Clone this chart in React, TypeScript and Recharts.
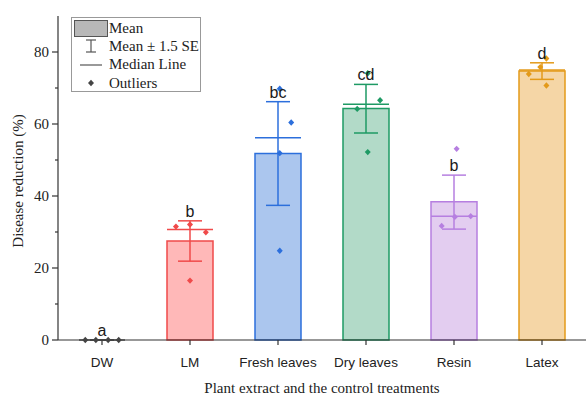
import React from 'react';
import { ComposedChart, Bar, Cell, Scatter, XAxis, YAxis } from 'recharts';

// treatments and summary stats
const categories = ['DW', 'LM', 'Fresh leaves', 'Dry leaves', 'Resin', 'Latex'];
const means = [0, 27.5, 51.8, 64.3, 38.4, 74.7];
const errLow = [0, 21.9, 37.4, 57.5, 30.8, 72.4];
const errHigh = [0, 33.1, 66.2, 71.0, 45.8, 77.0];
const medians = [0, 30.7, 56.2, 65.5, 34.4, 75.0];
const letters = ['a', 'b', 'bc', 'cd', 'b', 'd'];

// individual replicates: [jitter offset within category, value]
const replicates: [number, number][][] = [
  [[-0.19, 0], [-0.07, 0], [0.07, 0], [0.19, 0]],
  [[-0.16, 31.5], [0, 32.1], [0.18, 29.9], [0, 16.5]],
  [[0.02, 51.9], [0.15, 60.4], [0.02, 69.8], [0.02, 24.8]],
  [[0.02, 74.1], [0.16, 66.6], [-0.1, 64.2], [0.02, 52.2]],
  [[-0.14, 31.7], [0.01, 34.2], [0.19, 34.4], [0.03, 53.1]],
  [[0.05, 78.2], [-0.02, 75.8], [-0.15, 73.9], [0.05, 70.7]],
];

const yTicks = [0, 10, 20, 30, 40, 50, 60, 70, 80];

const strokes = ['#444444', '#f04a4a', '#2c6fdc', '#1e9a64', '#b67fe0', '#e39a1a'];
const fills = ['#cccccc', '#ffb8b8', '#abc6ee', '#b2dac8', '#e3cdf0', '#f5d6a6'];

const SERIF = '"Liberation Serif", "Times New Roman", serif';
const SANS = '"Liberation Sans", Arial, sans-serif';

const barData = categories.map((name, i) => ({
  name,
  idx: i,
  mean: means[i],
  range: [errLow[i], errHigh[i]],
}));

const medianData = categories.map((_, i) => ({ x: i, y: medians[i], idx: i }));
const letterData = categories.map((_, i) => ({ x: i, y: errHigh[i], idx: i, txt: letters[i] }));
const pointData = replicates.flatMap((pts, i) =>
  pts.map(([off, v]) => ({ x: i + off, y: v, idx: i }))
);

const Whisker = (props: any) => {
  const { x, y, width, height, payload } = props;
  const top = Math.min(y, y + height);
  const bot = Math.max(y, y + height);
  const cx = x + width / 2;
  const c = strokes[payload.idx];
  return (
    <g stroke={c} strokeWidth={1.5}>
      <line x1={cx} x2={cx} y1={top} y2={bot} />
      <line x1={x} x2={x + width} y1={top} y2={top} />
      <line x1={x} x2={x + width} y1={bot} y2={bot} />
    </g>
  );
};

const MedianMark = (props: any) => {
  const { cx, cy, payload } = props;
  return <line x1={cx - 23} x2={cx + 23} y1={cy} y2={cy} stroke={strokes[payload.idx]} strokeWidth={1.5} />;
};

const Diamond = (props: any) => {
  const { cx, cy, payload } = props;
  return (
    <polygon
      points={`${cx},${cy - 3.2} ${cx + 3},${cy} ${cx},${cy + 3.2} ${cx - 3},${cy}`}
      fill={strokes[payload.idx]}
    />
  );
};

const Letter = (props: any) => {
  const { cx, cy, payload } = props;
  return (
    <text x={cx} y={cy - 4} textAnchor="middle" fontFamily={SANS} fontSize={16} fill="#1a1a1a">
      {payload.txt}
    </text>
  );
};

const YTick = ({ x, y, payload }: any) => {
  const major = payload.value % 20 === 0;
  return (
    <g>
      <line x1={x + (major ? 3 : 6)} x2={x + 9} y1={y} y2={y} stroke="#333" strokeWidth={1.2} />
      {major && (
        <text x={x} y={y} dy={5} textAnchor="end" fontFamily={SERIF} fontSize={15} fill="#222">
          {payload.value}
        </text>
      )}
    </g>
  );
};

const YTitle = ({ viewBox }: any) => {
  const cx = viewBox.x + 18;
  const cy = viewBox.y + viewBox.height / 2 + 3;
  return (
    <text
      x={cx}
      y={cy}
      transform={`rotate(-90, ${cx}, ${cy})`}
      textAnchor="middle"
      dominantBaseline="central"
      fontFamily={SERIF}
      fontSize={15}
      fill="#222"
    >
      Disease reduction (%)
    </text>
  );
};

function LegendBox() {
  const row = { height: 18.3, display: 'flex', alignItems: 'center' } as React.CSSProperties;
  const icon = { width: 37, display: 'flex', justifyContent: 'center' } as React.CSSProperties;
  return (
    <div
      style={{
        position: 'absolute',
        left: 71,
        top: 17,
        width: 130,
        height: 75,
        border: '1px solid #999',
        background: '#fff',
        fontFamily: SERIF,
        fontSize: 15,
        color: '#222',
        lineHeight: 1,
        boxSizing: 'border-box',
        paddingTop: 1,
      }}
    >
      <div style={row}>
        <div style={icon}>
          <svg width={34} height={17}>
            <rect x={0.5} y={0.5} width={33} height={16} fill="#b8b8b8" stroke="#555" />
          </svg>
        </div>
        <span>Mean</span>
      </div>
      <div style={row}>
        <div style={icon}>
          <svg width={12} height={14}>
            <g stroke="#555" strokeWidth={1.2}>
              <line x1={6} x2={6} y1={1} y2={13} />
              <line x1={1} x2={11} y1={1} y2={1} />
              <line x1={1} x2={11} y1={13} y2={13} />
            </g>
          </svg>
        </div>
        <span>Mean ± 1.5 SE</span>
      </div>
      <div style={row}>
        <div style={icon}>
          <svg width={22} height={4}>
            <line x1={0} x2={22} y1={2} y2={2} stroke="#555" strokeWidth={1.2} />
          </svg>
        </div>
        <span>Median Line</span>
      </div>
      <div style={row}>
        <div style={icon}>
          <svg width={8} height={8}>
            <polygon points="4,0.8 7,4 4,7.2 1,4" fill="#444" />
          </svg>
        </div>
        <span>Outliers</span>
      </div>
    </div>
  );
}

export default function App() {
  return (
    <div style={{ position: 'relative', width: 586, height: 397, background: '#fff' }}>
      <style>{'body{margin:0}'}</style>
      <ComposedChart width={586} height={397} data={barData} margin={{ top: 16, right: 0, left: 0, bottom: 0 }}>
        <XAxis
          xAxisId="cat"
          dataKey="name"
          height={57}
          tickSize={5}
          tickMargin={12}
          axisLine={{ stroke: '#333', strokeWidth: 1.2 }}
          tickLine={{ stroke: '#333', strokeWidth: 1.2 }}
          tick={{ fontFamily: SANS, fontSize: 13.5, fill: '#222' }}
          interval={0}
          label={{
            value: 'Plant extract and the control treatments',
            position: 'insideBottom',
            offset: 4,
            style: { fontFamily: SERIF, fontSize: 15, fill: '#222' },
          }}
        />
        <XAxis xAxisId="w" dataKey="name" hide />
        <XAxis xAxisId="num" dataKey="x" type="number" domain={[-0.5, 5.5]} hide />
        <YAxis
          width={58}
          domain={[0, 90]}
          ticks={yTicks}
          interval={0}
          tickSize={6}
          tickMargin={3}
          tickLine={false}
          axisLine={{ stroke: '#333', strokeWidth: 1.2 }}
          tick={<YTick />}
          label={<YTitle />}
        />
        <Bar xAxisId="cat" dataKey="mean" barSize={46} strokeWidth={1.5} isAnimationActive={false}>
          {barData.map((d) => (
            <Cell key={d.name} fill={fills[d.idx]} stroke={strokes[d.idx]} />
          ))}
        </Bar>
        <Bar xAxisId="w" dataKey="range" barSize={24} shape={<Whisker />} isAnimationActive={false} />
        <Scatter xAxisId="num" data={medianData} dataKey="y" shape={<MedianMark />} isAnimationActive={false} />
        <Scatter xAxisId="num" data={pointData} dataKey="y" shape={<Diamond />} isAnimationActive={false} />
        <Scatter xAxisId="num" data={letterData} dataKey="y" shape={<Letter />} isAnimationActive={false} />
      </ComposedChart>
      <LegendBox />
    </div>
  );
}
